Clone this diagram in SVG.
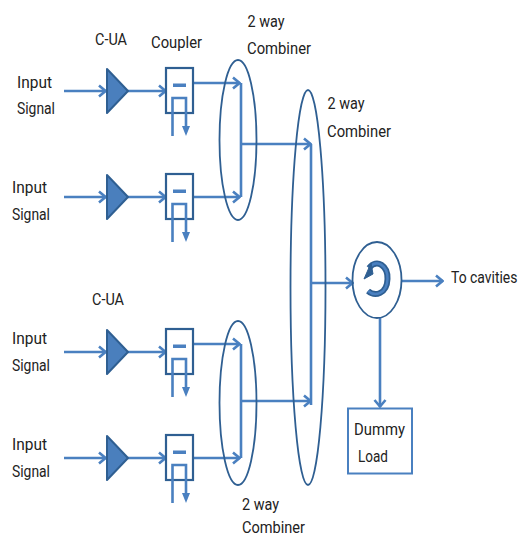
<svg xmlns="http://www.w3.org/2000/svg" width="518" height="538" viewBox="0 0 518 538">
<defs>
<style>
text{font-family:Roboto,"Liberation Sans",sans-serif;font-size:17px;fill:#222}
.c{fill:none;stroke:#4a80c0;stroke-width:2.6}
.o{fill:#fff;stroke:#2f5f92;stroke-width:2.2}
.e{fill:none;stroke:#2f5f92;stroke-width:1.8}
.t{fill:#4a7fbd;stroke:#2f5f92;stroke-width:2;stroke-linejoin:round}
.d{fill:#4a80c0;stroke:none}
</style>
<marker id="a" markerUnits="userSpaceOnUse" markerWidth="12" markerHeight="14" refX="11" refY="7" orient="auto"><path d="M4 1.500 L10.500 7 L4 12.500" fill="none" stroke="#4a80c0" stroke-width="2.600"/></marker>
<g id="cpl"><rect class="o" x="0" y="0" width="27" height="45"/><rect class="d" x="7" y="15.500" width="13" height="3.500"/><path class="c" d="M6.500 68 V30 H20 V60"/><path class="d" d="M16 58 H24 L20 68Z"/></g>
</defs>
<g id="connectors">
<path class="c" marker-end="url(#a)" d="M64 91 H106"/><path class="c" marker-end="url(#a)" d="M128 91 H166"/><path class="c" marker-end="url(#a)" d="M193 83 H240"/>
<path class="c" marker-end="url(#a)" d="M64 197 H106"/><path class="c" marker-end="url(#a)" d="M128 197 H166"/><path class="c" marker-end="url(#a)" d="M193 197 H240"/>
<path class="c" marker-end="url(#a)" d="M64 352 H106"/><path class="c" marker-end="url(#a)" d="M128 352 H166"/><path class="c" marker-end="url(#a)" d="M193 344 H240"/>
<path class="c" marker-end="url(#a)" d="M64 458 H106"/><path class="c" marker-end="url(#a)" d="M128 458 H166"/><path class="c" marker-end="url(#a)" d="M193 458 H240"/>
<path class="c" d="M241 83 V197 M241 344 V458 M311 144 V405"/>
<path class="c" marker-end="url(#a)" d="M241 144 H311"/>
<path class="c" marker-end="url(#a)" d="M241 401 H311"/>
<path class="c" marker-end="url(#a)" d="M311 283 H353"/>
<path class="c" marker-end="url(#a)" d="M402 281 H443"/>
<path class="c" marker-end="url(#a)" d="M380 318 V407"/>
</g>
<g id="amp1"><path class="t" d="M107 69 L128 91 L107 113Z"/></g>
<g id="amp2"><path class="t" d="M107 175 L128 197 L107 219Z"/></g>
<g id="amp3"><path class="t" d="M107 330 L128 352 L107 374Z"/></g>
<g id="amp4"><path class="t" d="M107 436 L128 458 L107 480Z"/></g>
<g id="coupler1"><use href="#cpl" x="166" y="68"/></g>
<g id="coupler2"><use href="#cpl" x="166" y="174"/></g>
<g id="coupler3"><use href="#cpl" x="166" y="329"/></g>
<g id="coupler4"><use href="#cpl" x="166" y="435"/></g>
<g id="combiner1"><ellipse class="e" cx="238" cy="140" rx="18.500" ry="80"/></g>
<g id="combiner2"><ellipse class="e" cx="238" cy="403" rx="18.500" ry="82"/></g>
<g id="combiner3"><ellipse class="e" cx="308" cy="287.500" rx="17.500" ry="197.500"/></g>
<g id="circulator"><ellipse class="e" cx="377" cy="280" rx="24.500" ry="38"/>
<path d="M368 291 C375 297 387 294 387.500 279 C388 266 377 258 369 268" fill="none" stroke="#2f5f92" stroke-width="6"/>
<path d="M368 291 C375 297 387 294 387.500 279 C388 266 377 258 369 268" fill="none" stroke="#4a80c0" stroke-width="2.500"/>
<path d="M371 263 L373 274 L364 279Z" fill="#2f5f92" stroke="#2f5f92" stroke-width="1"/></g>
<g id="load"><rect x="348" y="408.500" width="64" height="65" fill="#fff" stroke="#4a80c0" stroke-width="2"/><text x="354" y="435" textLength="51" lengthAdjust="spacingAndGlyphs">Dummy</text><text x="358" y="462" textLength="30" lengthAdjust="spacingAndGlyphs">Load</text></g>
<g id="labels">
<text x="95" y="45" textLength="32" lengthAdjust="spacingAndGlyphs">C-UA</text><text x="151" y="48" textLength="51" lengthAdjust="spacingAndGlyphs">Coupler</text>
<text x="247.500" y="27" textLength="37" lengthAdjust="spacingAndGlyphs">2 way</text><text x="247" y="54" textLength="64" lengthAdjust="spacingAndGlyphs">Combiner</text>
<text x="327.500" y="109" textLength="37" lengthAdjust="spacingAndGlyphs">2 way</text><text x="327" y="137" textLength="64" lengthAdjust="spacingAndGlyphs">Combiner</text>
<text x="17" y="88" textLength="35" lengthAdjust="spacingAndGlyphs">Input</text><text x="17" y="114" textLength="38" lengthAdjust="spacingAndGlyphs">Signal</text>
<text x="12" y="193" textLength="35" lengthAdjust="spacingAndGlyphs">Input</text><text x="12" y="220" textLength="38" lengthAdjust="spacingAndGlyphs">Signal</text>
<text x="92" y="305" textLength="32" lengthAdjust="spacingAndGlyphs">C-UA</text>
<text x="12" y="344" textLength="35" lengthAdjust="spacingAndGlyphs">Input</text><text x="12" y="371" textLength="38" lengthAdjust="spacingAndGlyphs">Signal</text>
<text x="12" y="450" textLength="35" lengthAdjust="spacingAndGlyphs">Input</text><text x="12" y="477" textLength="38" lengthAdjust="spacingAndGlyphs">Signal</text>
<text x="242" y="510" textLength="37" lengthAdjust="spacingAndGlyphs">2 way</text><text x="242" y="533" textLength="63" lengthAdjust="spacingAndGlyphs">Combiner</text>
<text transform="translate(451 283) scale(.82 1)" x="0" y="0">To cavities</text>
</g>
</svg>
